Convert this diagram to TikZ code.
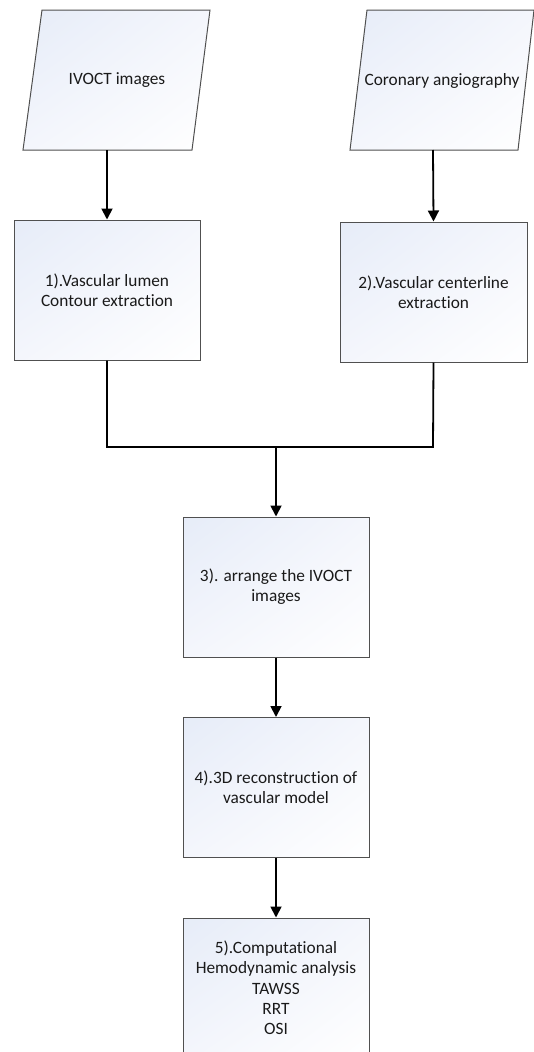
\documentclass[tikz,border=0pt]{standalone}
\usepackage{fontspec}
\setmainfont[Ligatures=NoCommon]{Carlito}
\usetikzlibrary{arrows.meta,shadings}
\definecolor{shadeA}{HTML}{E6ECF8}
\definecolor{shadeB}{HTML}{F4F6FC}
\definecolor{edgegray}{HTML}{505050}
\definecolor{txt}{HTML}{1A1A1A}
\tikzset{
  shapefill/.style={upper left=shadeA, upper right=shadeB, lower left=shadeB, lower right=white},
  shapeedge/.style={draw=edgegray, line width=1pt},
  procbox/.style={rectangle, shapeedge, shade, shapefill, minimum width=186pt, minimum height=140pt,
    inner sep=0pt, align=center, text=txt, font=\fontsize{17.3}{20.3}\selectfont},
  lbl/.style={align=center, text=txt, font=\fontsize{17.3}{20.3}\selectfont, inner sep=0pt},
  conn/.style={line width=1.8pt, black},
  arr/.style={conn, -{Triangle[width=11pt,length=11pt]}}
}
\begin{document}
\begin{tikzpicture}[x=1pt,y=-1pt]
\useasboundingbox (0,0) rectangle (534,1052);
\clip (0,0) rectangle (534,1052);
% input parallelograms
\shade[shapefill] (42,10) -- (210,10) -- (192,150) -- (23,150) -- cycle;
\draw[shapeedge] (42,10) -- (210,10) -- (192,150) -- (23,150) -- cycle;
\node[lbl] (in1) at (117,80) {IVOCT images};
\coordinate (in1b) at (107,150);
\shade[shapefill] (367,10) -- (534,10) -- (518,150) -- (350,150) -- cycle;
\draw[shapeedge] (367,10) -- (534,10) -- (518,150) -- (350,150) -- cycle;
\node[lbl] (in2) at (442,81) {Coronary angiography};
\coordinate (in2b) at (433,150);
% process boxes
\node[procbox] (b1) at (107,290) {1).Vascular lumen\\Contour extraction};
\node[procbox, minimum width=187pt] (b2) at (433.5,292) {2).Vascular centerline\\extraction};
\node[procbox] (b3) at (276,587) {3). arrange the IVOCT\\images};
\node[procbox] (b4) at (276,787.5) {4).3D reconstruction of\\vascular model};
\node[procbox] (b5) at (276,988) {5).Computational\\Hemodynamic analysis\\TAWSS\\RRT\\OSI};
\coordinate (j1) at (107,447);
\coordinate (j2) at (433,447);
\coordinate (jm) at (276,447);
% connectors
\draw[arr] (in1b) -- (b1.north);
\draw[arr] (in2b) -- (b2.north);
\draw[conn] (b1.south) -- (j1) -- (j2) -- (b2.south);
\draw[arr] (jm) -- (b3.north);
\draw[arr] (b3.south) -- (b4.north);
\draw[arr] (b4.south) -- (b5.north);
\end{tikzpicture}
\end{document}
